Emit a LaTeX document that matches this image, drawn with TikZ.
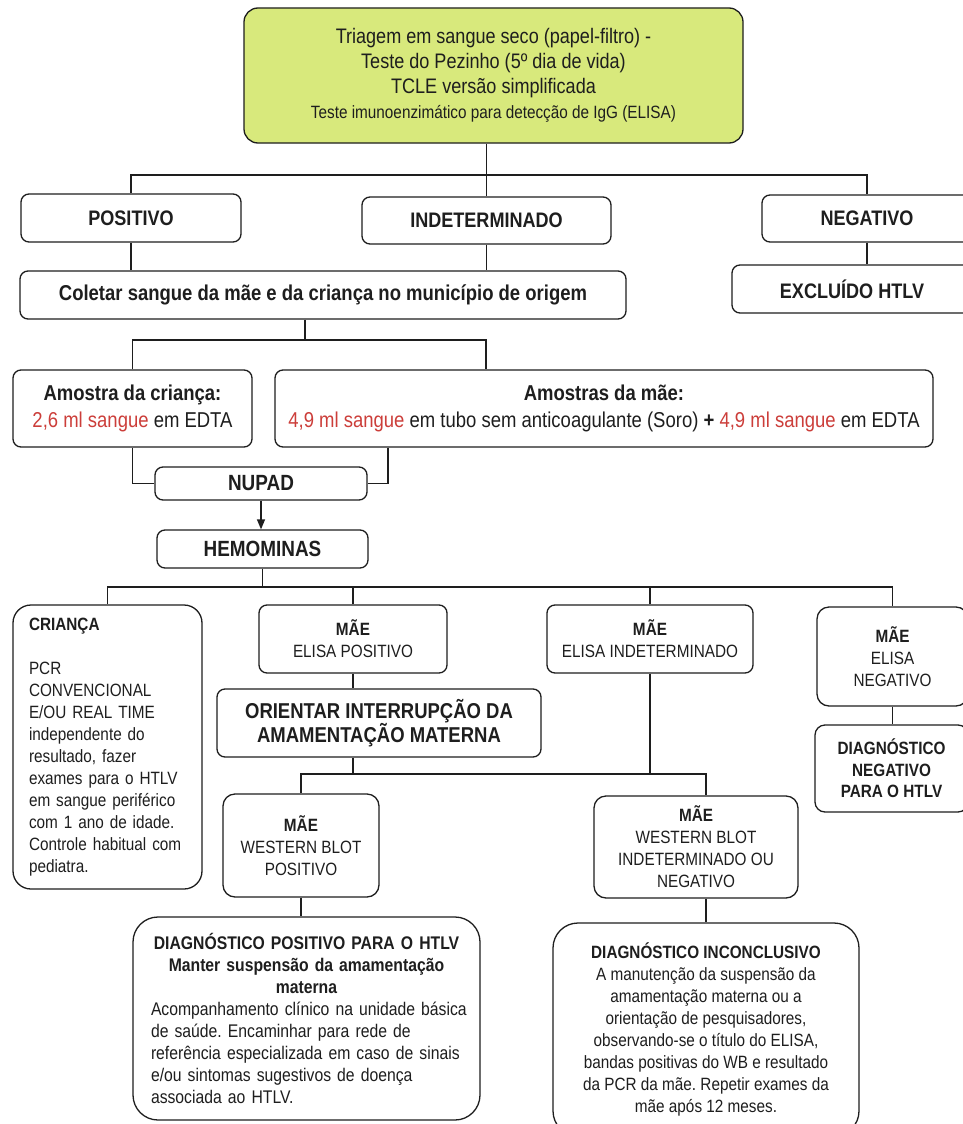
\documentclass[tikz,border=0pt]{standalone}
\usepackage{fontspec}
\setmainfont{Liberation Sans}[FakeStretch=0.86]
\usetikzlibrary{arrows.meta}
\definecolor{topgreen}{RGB}{216,233,124}
\definecolor{redtxt}{RGB}{204,62,58}
\definecolor{ink}{RGB}{30,30,30}
\newcommand\fsz[2]{\fontsize{#1}{#2}\selectfont}
\newcommand\rd[1]{\textcolor{redtxt}{#1}}
\frenchspacing
\begin{document}
\frenchspacing
\begin{tikzpicture}[x=1pt,y=-1pt,
  box/.style={draw=ink,line width=1.3pt,rounded corners=8pt,fill=white,inner sep=2pt,align=center,text=ink,font=\fsz{17.8}{22}},
  head/.style={box,font=\bfseries\fsz{21}{24}},
  conn/.style={draw=ink,line width=1.3pt},
]
\fill[white] (0,0) rectangle (963,1124);
\useasboundingbox (0,0) rectangle (963,1124);

% top
\node[box,font=\fsz{21}{25},fill=topgreen,rounded corners=14pt,minimum width=499pt,minimum height=135pt] (top) at (493.5,75.5)
 {Triagem em sangue seco (papel-filtro) -\\Teste do Pezinho (5º dia de vida)\\TCLE versão simplificada\\\fsz{17.8}{25}Teste imunoenzimático para detecção de IgG (ELISA)};

\node[head,minimum width=220pt,minimum height=48pt] (pos) at (131,218) {POSITIVO};
\node[head,minimum width=249pt,minimum height=47pt] (ind) at (486.5,220.5) {INDETERMINADO};
\node[head,minimum width=210pt,minimum height=47pt] (neg) at (867,218.5) {NEGATIVO};
\node[head,font=\bfseries\fsz{21.5}{24},minimum width=606pt,minimum height=48pt] (col) at (323,295) {Coletar sangue da mãe e da criança no município de origem};
\node[head,minimum width=240pt,minimum height=48pt] (exc) at (852,289) {EXCLUÍDO HTLV};

\node[box,font=\fsz{21.5}{27},minimum width=239pt,minimum height=77pt] (amc) at (132.5,408.5)
 {\textbf{Amostra da criança:}\\\rd{2,6 ml sangue} em EDTA};
\node[box,font=\fsz{21.5}{27},minimum width=658pt,minimum height=77pt] (amm) at (604,408.5)
 {\textbf{Amostras da mãe:}\\\rd{4,9 ml sangue} em tubo sem anticoagulante (Soro) \textbf{+} \rd{4,9 ml sangue} em EDTA};

\node[head,font=\bfseries\fsz{22}{24},minimum width=212pt,minimum height=33pt] (nupad) at (261,483.5) {NUPAD};
\node[head,font=\bfseries\fsz{22}{24},minimum width=211pt,minimum height=38pt] (hemo) at (262.5,549) {HEMOMINAS};

\node[box,rounded corners=18pt,align=left,text width=157pt,inner xsep=16pt,minimum width=189pt,minimum height=284pt] (cri) at (107.5,747)
 {\textbf{CRIANÇA}\\[22pt]PCR\\CONVENCIONAL\\E/OU REAL TIME\\independente do\\resultado, fazer\\exames para o HTLV\\em sangue periférico\\com 1 ano de idade.\\Controle habitual com\\pediatra.};
\node[box,minimum width=188pt,minimum height=68pt] (epos) at (353,639) {\textbf{MÃE}\\ELISA POSITIVO};
\node[box,minimum width=206pt,minimum height=68pt] (eind) at (650,639) {\textbf{MÃE}\\ELISA INDETERMINADO};
\node[box,rounded corners=12pt,minimum width=151pt,minimum height=99pt] (eneg) at (892.5,656.5) {\textbf{MÃE}\\ELISA\\NEGATIVO};
\node[head,font=\bfseries\fsz{21.5}{24},minimum width=324pt,minimum height=68pt] (orient) at (379,723)
 {ORIENTAR INTERRUPÇÃO DA\\AMAMENTAÇÃO MATERNA};
\node[box,font=\bfseries\fsz{17.8}{21.5},rounded corners=10pt,minimum width=153pt,minimum height=87pt] (dneg) at (891.5,768.5)
 {DIAGNÓSTICO\\NEGATIVO\\PARA O HTLV};
\node[box,rounded corners=12pt,minimum width=156pt,minimum height=103pt] (wbpos) at (301,845.5) {\textbf{MÃE}\\WESTERN BLOT\\POSITIVO};
\node[box,rounded corners=12pt,minimum width=204pt,minimum height=102pt] (wbind) at (696,847) {\textbf{MÃE}\\WESTERN BLOT\\INDETERMINADO OU\\NEGATIVO};

\node[box,font=\fsz{18.3}{22},rounded corners=25pt,align=left,text width=329pt,inner xsep=9pt,minimum width=347pt,minimum height=203pt] (dpos) at (306.5,1018.5)
 {{\parskip=0pt\centering\bfseries DIAGNÓSTICO POSITIVO PARA O HTLV\\Manter suspensão da amamentação\\materna\par}%
  \parskip=0pt\leftskip=9pt Acompanhamento clínico na unidade básica\\de saúde. Encaminhar para rede de\\referência especializada em caso de sinais\\e/ou sintomas sugestivos de doença\\associada ao HTLV.\par};
\node[box,rounded corners=25pt,minimum width=306pt,minimum height=213pt] (dinc) at (706,1029.5)
 {\textbf{DIAGNÓSTICO INCONCLUSIVO}\\A manutenção da suspensão da\\amamentação materna ou a\\orientação de pesquisadores,\\observando-se o título do ELISA,\\bandas positivas do WB e resultado\\da PCR da mãe. Repetir exames da\\mãe após 12 meses.};

% junction coordinates
\coordinate (h1) at (0,175);
\coordinate (h2) at (305,340);
\coordinate (h3) at (262,587);
\coordinate (h4) at (0,774);
\coordinate (mx) at (388,0);
\coordinate (wx) at (706,0);
\coordinate (ix) at (486,0);

% connectors
\draw[conn] (top.south -| ind.north) -- (ind.north);
\draw[conn] (pos.north) |- (neg.north |- h1) -- (neg.north);
\draw[conn] (pos.south) -- (pos.south |- col.north);
\draw[conn] (ind.south) -- (ind.south |- col.north);
\draw[conn] (neg.south) -- (neg.south |- exc.north);
\draw[conn] (col.south -| h2) -- (h2);
\draw[conn] (amc.north) |- (ix |- h2) -- (ix |- amm.north);
\draw[conn] (amc.south) |- (nupad.west);
\draw[conn] (amm.south -| mx) |- (nupad.east);
\draw[conn,-{Triangle[length=10pt,width=8pt]}] (nupad.south) -- (nupad.south |- hemo.north);
\draw[conn] (hemo.south) -- (hemo.south |- h3);
\draw[conn] (cri.north) |- (eneg.north |- h3) -- (eneg.north);
\draw[conn] (epos.north) -- (epos.north |- h3);
\draw[conn] (eind.north) -- (eind.north |- h3);
\draw[conn] (epos.south) -- (epos.south |- orient.north);
\draw[conn] (eneg.south) -- (eneg.south |- dneg.north);
\draw[conn] (orient.south -| epos.south) -- (epos.south |- h4);
\draw[conn] (eind.south) -- (eind.south |- h4);
\draw[conn] (wbpos.north) |- (wx |- h4) -- (wx |- wbind.north);
\draw[conn] (wbpos.south) -- (wbpos.south |- dpos.north);
\draw[conn] (wx |- wbind.south) -- (dinc.north);
\end{tikzpicture}
\end{document}
